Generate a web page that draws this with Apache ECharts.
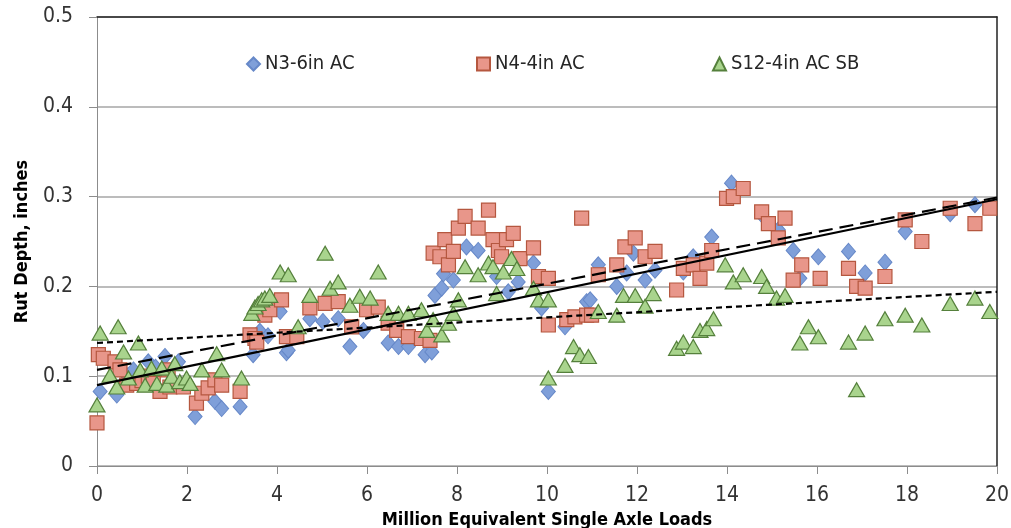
<!DOCTYPE html>
<html>
<head>
<meta charset="utf-8">
<script src="https://cdn.jsdelivr.net/npm/echarts@6/dist/echarts.min.js"></script>
<style>html,body{margin:0;padding:0;background:#fff}#c{width:1011px;height:528px}</style>
</head>
<body>
<div id="c"></div>
<script>
const xTicks = [0, 2, 4, 6, 8, 10, 12, 14, 16, 18, 20];
const yTicks = [0, 0.1, 0.2, 0.3, 0.4, 0.5];
const seriesNames = ['N3-6in AC', 'N4-4in AC', 'S12-4in AC SB'];

const n3Data = [[0.07,0.083],[0.44,0.079],[0.59,0.105],[0.81,0.107],[0.92,0.092],[1.0,0.1],[1.14,0.116],[1.3,0.11],[1.51,0.122],[1.81,0.116],[2.18,0.055],[2.62,0.072],[2.77,0.064],[3.18,0.066],[3.47,0.124],[3.62,0.15],[3.8,0.145],[4.07,0.172],[4.21,0.126],[4.25,0.129],[4.73,0.164],[5.02,0.161],[5.36,0.164],[5.62,0.133],[5.92,0.151],[6.47,0.137],[6.7,0.133],[6.92,0.133],[7.29,0.124],[7.44,0.127],[7.51,0.19],[7.66,0.198],[7.7,0.214],[7.92,0.207],[8.21,0.244],[8.47,0.24],[8.88,0.211],[9.14,0.194],[9.36,0.205],[9.7,0.226],[9.88,0.176],[10.03,0.083],[10.4,0.155],[10.88,0.183],[10.96,0.185],[11.14,0.224],[11.55,0.2],[11.77,0.215],[11.92,0.237],[12.18,0.207],[12.4,0.218],[13.03,0.216],[13.25,0.233],[13.66,0.255],[14.1,0.315],[14.77,0.28],[15.14,0.263],[15.47,0.24],[15.62,0.209],[16.03,0.233],[16.7,0.239],[17.07,0.215],[17.51,0.227],[17.96,0.261],[18.96,0.281],[19.51,0.291]];

const n4Data = [[0.0,0.048],[0.03,0.124],[0.14,0.12],[0.4,0.116],[0.51,0.107],[0.66,0.09],[0.88,0.092],[1.0,0.095],[1.14,0.1],[1.25,0.092],[1.4,0.083],[1.58,0.107],[1.62,0.088],[1.92,0.088],[2.21,0.07],[2.33,0.081],[2.47,0.087],[2.62,0.096],[2.77,0.09],[3.18,0.083],[3.4,0.146],[3.51,0.142],[3.55,0.138],[3.73,0.168],[3.84,0.174],[4.1,0.185],[4.21,0.144],[4.44,0.144],[4.73,0.176],[5.07,0.181],[5.36,0.183],[5.66,0.155],[5.99,0.174],[6.25,0.177],[6.47,0.159],[6.66,0.151],[6.92,0.144],[7.21,0.142],[7.4,0.14],[7.47,0.237],[7.62,0.233],[7.73,0.252],[7.81,0.224],[7.92,0.239],[8.03,0.265],[8.18,0.278],[8.47,0.265],[8.7,0.285],[8.8,0.252],[8.92,0.24],[8.99,0.233],[9.1,0.252],[9.25,0.259],[9.4,0.231],[9.7,0.243],[9.81,0.211],[10.03,0.209],[10.03,0.157],[10.44,0.163],[10.62,0.166],[10.77,0.276],[10.88,0.168],[10.99,0.168],[11.14,0.213],[11.55,0.224],[11.73,0.244],[11.96,0.254],[12.18,0.233],[12.4,0.239],[12.88,0.196],[13.03,0.22],[13.25,0.224],[13.4,0.209],[13.55,0.226],[13.66,0.24],[13.99,0.298],[14.14,0.3],[14.36,0.309],[14.77,0.283],[14.92,0.27],[15.14,0.254],[15.29,0.276],[15.47,0.207],[15.66,0.224],[16.07,0.209],[16.7,0.22],[16.88,0.2],[17.07,0.198],[17.51,0.211],[17.96,0.274],[18.33,0.25],[18.96,0.287],[19.51,0.27],[19.84,0.287]];

const s12Data = [[0.0,0.068],[0.07,0.148],[0.29,0.101],[0.44,0.088],[0.47,0.155],[0.59,0.127],[0.7,0.098],[0.92,0.137],[0.96,0.107],[1.07,0.09],[1.21,0.109],[1.33,0.092],[1.44,0.109],[1.55,0.09],[1.66,0.1],[1.73,0.114],[1.84,0.094],[1.99,0.098],[2.07,0.092],[2.33,0.107],[2.66,0.125],[2.77,0.107],[3.21,0.098],[3.44,0.17],[3.51,0.177],[3.58,0.181],[3.66,0.185],[3.73,0.187],[3.84,0.19],[4.07,0.216],[4.25,0.213],[4.47,0.155],[4.73,0.19],[5.07,0.237],[5.18,0.198],[5.36,0.205],[5.62,0.179],[5.84,0.189],[6.07,0.187],[6.25,0.216],[6.47,0.17],[6.7,0.17],[6.92,0.17],[7.21,0.174],[7.33,0.151],[7.47,0.163],[7.66,0.146],[7.81,0.159],[7.92,0.17],[8.03,0.185],[8.18,0.222],[8.47,0.213],[8.7,0.226],[8.8,0.222],[8.88,0.192],[9.03,0.216],[9.21,0.231],[9.33,0.22],[9.7,0.198],[9.81,0.185],[10.03,0.185],[10.03,0.098],[10.4,0.112],[10.59,0.133],[10.73,0.124],[10.92,0.122],[11.14,0.172],[11.55,0.168],[11.7,0.19],[11.96,0.19],[12.18,0.178],[12.36,0.192],[12.88,0.131],[13.03,0.138],[13.25,0.133],[13.4,0.151],[13.55,0.153],[13.7,0.164],[13.96,0.224],[14.14,0.205],[14.36,0.213],[14.77,0.211],[14.88,0.2],[15.1,0.187],[15.29,0.19],[15.62,0.137],[15.81,0.155],[16.03,0.144],[16.7,0.138],[16.88,0.085],[17.07,0.148],[17.51,0.164],[17.96,0.168],[18.33,0.157],[18.96,0.181],[19.51,0.187],[19.84,0.172]];

// trend line end values: [x, y] at both ends
const trendN3 = [[0, 0.090], [20, 0.297]];
const trendN4 = [[0, 0.107], [20, 0.299]];
const trendS12 = [[0, 0.137], [20, 0.194]];

const FONT = '"DejaVu Sans Condensed", "Liberation Sans Narrow", "Open Sans", sans-serif';
const chart = echarts.init(document.getElementById('c'), null, {renderer: 'canvas'});

function legendFor(name, left, icon) {
  return {
    data: [name], left: left, top: 49, icon: icon,
    itemWidth: 13, itemHeight: 13, itemGap: 4,
    textStyle: {fontFamily: FONT, fontSize: 20, color: '#262626'}
  };
}

chart.setOption({
  animation: false,
  backgroundColor: '#ffffff',
  legend: [
    legendFor(seriesNames[0], 241, 'diamond'),
    legendFor(seriesNames[1], 471, 'rect'),
    legendFor(seriesNames[2], 707, 'triangle')
  ],
  grid: {left: 97, right: 14, top: 17, bottom: 62, containLabel: false, outerBoundsMode: 'none'},
  xAxis: [{
    type: 'value', min: xTicks[0], max: xTicks[xTicks.length - 1], interval: 2,
    name: 'Million Equivalent Single Axle Loads', nameLocation: 'middle', nameGap: 44,
    nameTextStyle: {fontFamily: FONT, fontSize: 18, fontWeight: 'bold', color: '#000'},
    axisLine: {show: true, onZero: false, lineStyle: {color: '#8c8c8c', width: 1}},
    axisTick: {show: true, length: 8, lineStyle: {color: '#8c8c8c'}},
    axisLabel: {fontFamily: FONT, fontSize: 21, color: '#333', margin: 19},
    splitLine: {show: false}
  }, {
    type: 'value', position: 'top', min: 0, max: 20,
    axisLine: {show: true, onZero: false, lineStyle: {color: '#222', width: 1.5}},
    axisTick: {show: false}, axisLabel: {show: false}, splitLine: {show: false}
  }],
  yAxis: [{
    type: 'value', min: yTicks[0], max: yTicks[yTicks.length - 1], interval: 0.1,
    name: 'Rut Depth, inches', nameLocation: 'middle', nameGap: 66, nameRotate: 90,
    nameTextStyle: {fontFamily: FONT, fontSize: 18, fontWeight: 'bold', color: '#000'},
    axisLine: {show: true, onZero: false, lineStyle: {color: '#8c8c8c', width: 1}},
    axisTick: {show: true, length: 8, lineStyle: {color: '#8c8c8c'}},
    axisLabel: {fontFamily: FONT, fontSize: 21, color: '#333', margin: 24,
      formatter: v => (v === 0 ? '0' : v.toFixed(1))},
    splitLine: {show: true, lineStyle: {color: '#a6a6a6', width: 1.5}}
  }, {
    type: 'value', position: 'right', min: 0, max: 0.5,
    axisLine: {show: true, onZero: false, lineStyle: {color: '#222', width: 1.5}},
    axisTick: {show: false}, axisLabel: {show: false}, splitLine: {show: false}
  }],
  series: [
    {name: seriesNames[0], type: 'scatter', data: n3Data, symbol: 'diamond', symbolSize: [14, 16],
      itemStyle: {color: '#7f9fd9', borderColor: '#6688c8', borderWidth: 1, opacity: 1}, z: 2},
    {name: seriesNames[1], type: 'scatter', data: n4Data, symbol: 'rect', symbolSize: 14,
      itemStyle: {color: '#e8968a', borderColor: '#b5573f', borderWidth: 1.2, opacity: 1}, z: 3},
    {name: seriesNames[2], type: 'scatter', data: s12Data, symbol: 'triangle', symbolSize: [16, 14],
      itemStyle: {color: '#a9d48d', borderColor: '#55803c', borderWidth: 1.2, opacity: 1}, z: 4},
    {type: 'line', data: trendN3, symbol: 'none', z: 6, silent: true,
      lineStyle: {color: '#000', width: 2.2, type: 'solid'}},
    {type: 'line', data: trendN4, symbol: 'none', z: 6, silent: true,
      lineStyle: {color: '#000', width: 2.2, type: [14, 7]}},
    {type: 'line', data: trendS12, symbol: 'none', z: 6, silent: true,
      lineStyle: {color: '#000', width: 2.2, type: [6, 4]}}
  ]
});
</script>
</body>
</html>
